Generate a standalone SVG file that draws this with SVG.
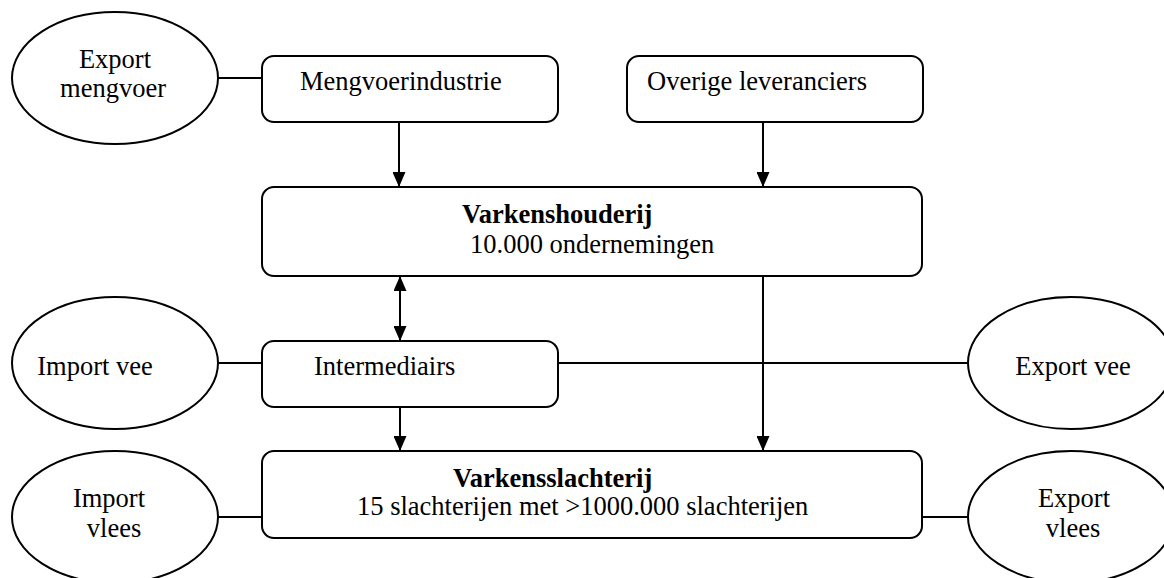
<svg xmlns="http://www.w3.org/2000/svg" width="1164" height="578" viewBox="0 0 1164 578">
  <style>
    .box { fill: #fff; stroke: #000; stroke-width: 2; }
    .ell { fill: #fff; stroke: #000; stroke-width: 2; }
    .line { fill: none; stroke: #000; stroke-width: 2; }
    text { font-family: "Liberation Serif", "Times New Roman", serif; font-size: 26.5px; fill: #000; }
    .b { font-weight: bold; }
    .c { text-anchor: middle; }
  </style>
  <defs>
    <marker id="arrow" viewBox="0 0 15 13" refX="15" refY="6.5" markerWidth="15" markerHeight="13" markerUnits="userSpaceOnUse" orient="auto-start-reverse">
      <path d="M0,0 L15,6.5 L0,13 z" fill="#000"/>
    </marker>
  </defs>
  <rect width="1164" height="578" fill="#fff"/>

  <!-- connectors -->
  <g id="connectors">
    <line class="line" x1="218" y1="78" x2="262" y2="78"/>
    <line class="line" x1="399" y1="122" x2="399" y2="187" marker-end="url(#arrow)"/>
    <line class="line" x1="763" y1="122" x2="763" y2="187" marker-end="url(#arrow)"/>
    <line class="line" x1="400" y1="276" x2="400" y2="341" marker-start="url(#arrow)" marker-end="url(#arrow)"/>
    <line class="line" x1="218" y1="363" x2="262" y2="363"/>
    <line class="line" x1="558" y1="363" x2="968" y2="363"/>
    <line class="line" x1="763" y1="276" x2="763" y2="451" marker-end="url(#arrow)"/>
    <line class="line" x1="400" y1="407" x2="400" y2="451" marker-end="url(#arrow)"/>
    <line class="line" x1="218" y1="517" x2="262" y2="517"/>
    <line class="line" x1="922" y1="517" x2="968" y2="517"/>
  </g>

  <g id="export-mengvoer">
    <ellipse class="ell" cx="115" cy="78" rx="103" ry="66"/>
    <text class="c" x="115" y="68">Export</text>
    <text class="c" x="113" y="97">mengvoer</text>
  </g>

  <g id="mengvoerindustrie">
    <rect class="box" x="262" y="56" width="296" height="66" rx="12"/>
    <text x="300" y="90">Mengvoerindustrie</text>
  </g>

  <g id="overige-leveranciers">
    <rect class="box" x="627" y="56" width="296" height="66" rx="12"/>
    <text x="647" y="90">Overige leveranciers</text>
  </g>

  <g id="varkenshouderij">
    <rect class="box" x="262" y="187" width="660" height="89" rx="12"/>
    <text class="b" x="462" y="223">Varkenshouderij</text>
    <text x="470" y="253">10.000 ondernemingen</text>
  </g>

  <g id="import-vee">
    <ellipse class="ell" cx="115" cy="363" rx="103" ry="66"/>
    <text class="c" x="95" y="375">Import vee</text>
  </g>

  <g id="intermediairs">
    <rect class="box" x="262" y="341" width="296" height="66" rx="12"/>
    <text x="314" y="375">Intermediairs</text>
  </g>

  <g id="export-vee">
    <ellipse class="ell" cx="1071" cy="363" rx="103" ry="66"/>
    <text class="c" x="1073" y="375">Export vee</text>
  </g>

  <g id="import-vlees">
    <ellipse class="ell" cx="115" cy="517" rx="103" ry="66"/>
    <text class="c" x="109" y="507">Import</text>
    <text class="c" x="114" y="537">vlees</text>
  </g>

  <g id="varkensslachterij">
    <rect class="box" x="262" y="451" width="660" height="87" rx="12"/>
    <text class="b" x="453" y="487">Varkensslachterij</text>
    <text x="357" y="515">15 slachterijen met &gt;1000.000 slachterijen</text>
  </g>

  <g id="export-vlees">
    <ellipse class="ell" cx="1071" cy="517" rx="103" ry="66"/>
    <text class="c" x="1074" y="507">Export</text>
    <text class="c" x="1073" y="537">vlees</text>
  </g>
</svg>
